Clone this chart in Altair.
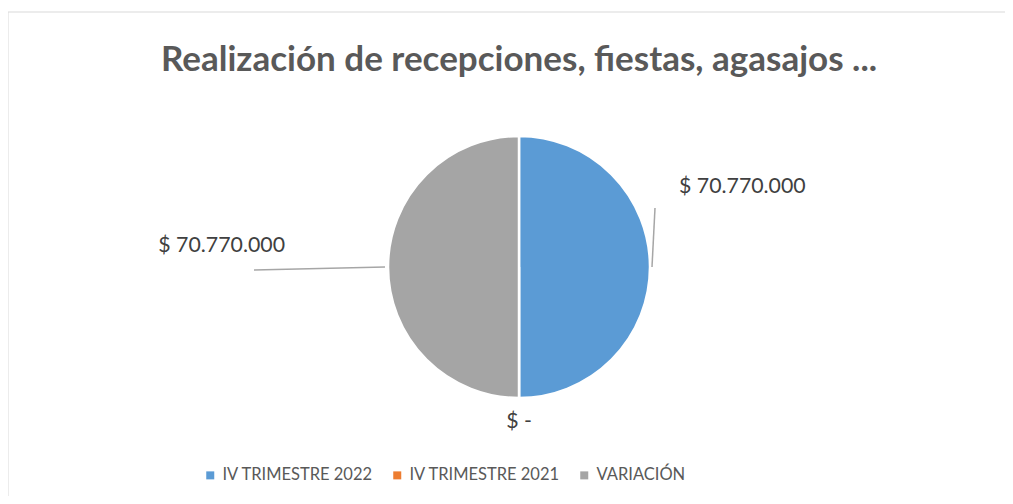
import math
import altair as alt
import pandas as pd

categories = ["IV TRIMESTRE 2022", "IV TRIMESTRE 2021", "VARIACIÓN"]
values = [70770000, 0, 70770000]
colors = ["#5B9BD5", "#ED7D31", "#A5A5A5"]
title_text = "Realización de recepciones, fiestas, agasajos ..."


def fmt(v):
    return "$ -" if v == 0 else "$ " + f"{v:,}".replace(",", ".")


df = pd.DataFrame({
    "cat": categories,
    "value": values,
    "idx": list(range(len(categories))),
    "label": [fmt(v) for v in values],
})
total = float(sum(values))

FONT = "Lato"
W, H = 997, 484
CX, CY, R = 511, 255, 131

pie = alt.Chart(df).mark_arc(outerRadius=R, stroke="white", strokeWidth=2.5).encode(
    theta=alt.Theta("value:Q", stack=True),
    order=alt.Order("idx:Q"),
    x=alt.value(CX), y=alt.value(CY),
    color=alt.Color(
        "cat:N",
        scale=alt.Scale(domain=categories, range=colors),
        sort=categories,
        legend=alt.Legend(
            title=None, orient="none", direction="horizontal", columns=3,
            legendX=194, legendY=455, symbolType="square", symbolSize=64,
            labelFontSize=16.5, labelColor="#595959", labelFont=FONT,
            columnPadding=15, labelOffset=4, symbolStrokeWidth=0, labelLimit=0,
        ),
    ),
)

lab_base = alt.Chart(df).transform_window(
    cum="sum(value)", sort=[alt.SortField("idx")]
).transform_calculate(
    mid="datum.cum - datum.value / 2"
).encode(
    theta=alt.Theta("mid:Q", stack=None,
                    scale=alt.Scale(domain=[0, total], range=[0, 2 * math.pi])),
    x=alt.value(CX), y=alt.value(CY), text="label:N",
)

lab_style = dict(fontSize=21.3, color="#404040", font=FONT)

lab_blue = lab_base.mark_text(radius=160, align="left", baseline="middle", dy=-80, **lab_style
                              ).transform_filter(alt.datum.idx == 0)
lab_orange = lab_base.mark_text(radius=155, align="center", baseline="middle", **lab_style
                                ).transform_filter(alt.datum.idx == 1)
lab_gray = lab_base.mark_text(radius=234, align="right", baseline="middle", dy=-21, **lab_style
                              ).transform_filter(alt.datum.idx == 2)

one = alt.Chart(pd.DataFrame({"a": [0]}))
lead1 = one.mark_rule(color="#A6A6A6", strokeWidth=1.5).encode(
    x=alt.value(647), y=alt.value(196), x2=alt.value(644), y2=alt.value(255))
lead2 = one.mark_rule(color="#A6A6A6", strokeWidth=1.5).encode(
    x=alt.value(246), y=alt.value(258), x2=alt.value(377), y2=alt.value(255))

border_top = one.mark_rule(color="#D9D9D9", strokeWidth=1).encode(
    x=alt.value(0), x2=alt.value(W), y=alt.value(0))
border_left = one.mark_rule(color="#D9D9D9", strokeWidth=1).encode(
    x=alt.value(0), y=alt.value(0), y2=alt.value(H + 4))

title = one.mark_text(
    fontSize=35, fontWeight="bold", color="#595959", font=FONT,
    align="center", baseline="middle", text=title_text,
).encode(x=alt.value(CX), y=alt.value(48))

chart = alt.layer(
    border_top, border_left, title, pie, lead1, lead2, lab_blue, lab_orange, lab_gray
).resolve_scale(theta="independent").properties(
    width=W, height=H,
    autosize=alt.AutoSizeParams(type="none"),
    padding={"left": 0, "top": 4, "right": 0, "bottom": 0},
).configure_view(stroke=None)

chart.save("out.html", embed_options={"renderer": "svg", "actions": False})
